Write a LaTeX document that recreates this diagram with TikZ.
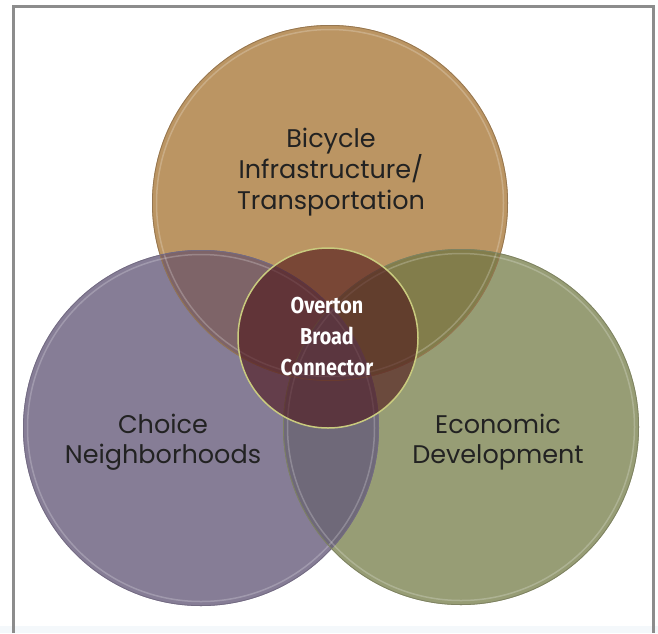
\documentclass[tikz,border=0pt]{standalone}
\usepackage{fontspec}
\setmainfont{Poppins}
\newfontfamily\hubfont[FakeStretch=0.86]{Fira Sans}
\definecolor{biketan}{HTML}{BB9563}
\definecolor{choicepurple}{HTML}{867D96}
\definecolor{econgreen}{HTML}{979D75}
\definecolor{bikechoice}{HTML}{7E6468}
\definecolor{bikeecon}{HTML}{827D4B}
\definecolor{choiceecon}{HTML}{6F6979}
\definecolor{bikeedge}{HTML}{957650}
\definecolor{choiceedge}{HTML}{736B82}
\definecolor{econedge}{HTML}{7E8262}
\definecolor{hubred}{HTML}{4E1419}
\definecolor{hubrim}{HTML}{C9CB7E}
\definecolor{textgray}{HTML}{222222}
\definecolor{framegray}{HTML}{8C8C8C}
\definecolor{bandblue}{HTML}{F4F8FB}
\begin{document}
\begin{tikzpicture}[x=1pt, y=-1pt,
		caption/.style={align=center, text=textgray, font=\fontsize{25.5}{30.5}\selectfont},
		hub/.style={align=center, text=white, font=\hubfont\bfseries\fontsize{23}{31}\selectfont}]
	
	\useasboundingbox (0,0) rectangle (658,633);
	\fill[bandblue] (0,626) rectangle (658,633);
	\draw[framegray, line width=3] (13,633) |- (653,6) -- (653,633);
	
	\coordinate (bike) at (330,203);
	\coordinate (choice) at (201,428);
	\coordinate (econ) at (461,427);
	\coordinate (hub) at (328,338);
	
	% circles and their overlaps
	\fill[biketan] (bike) circle (178);
	\fill[choicepurple] (choice) circle (178);
	\fill[econgreen] (econ) circle (178);
	\begin{scope}
		\clip (bike) circle (178);
		\fill[bikechoice] (choice) circle (178);
		\fill[bikeecon] (econ) circle (178);
	\end{scope}
	\begin{scope}
		\clip (choice) circle (178);
		\fill[choiceecon] (econ) circle (178);
	\end{scope}
	\foreach \c/\col in {bike/bikeedge, choice/choiceedge, econ/econedge}{
		\draw[\col, line width=0.8] (\c) circle (177.6);
		\draw[white, opacity=0.22, line width=1.5] (\c) circle (173.5);
	}
	
	\fill[hubred, fill opacity=0.6] (hub) circle (90);
	\draw[hubrim, line width=1.5] (hub) circle (90);
	
	\node[caption] (biketext) at (331,172) {Bicycle\\Infrastructure/\\Transportation};
	\node[caption] (choicetext) at (163,442) {Choice\\Neighborhoods};
	\node[caption] (econtext) at (498,442) {Economic\\Development};
	\node[hub] (hubtext) at (327,337) {Overton\\Broad\\Connector};
\end{tikzpicture}
\end{document}
